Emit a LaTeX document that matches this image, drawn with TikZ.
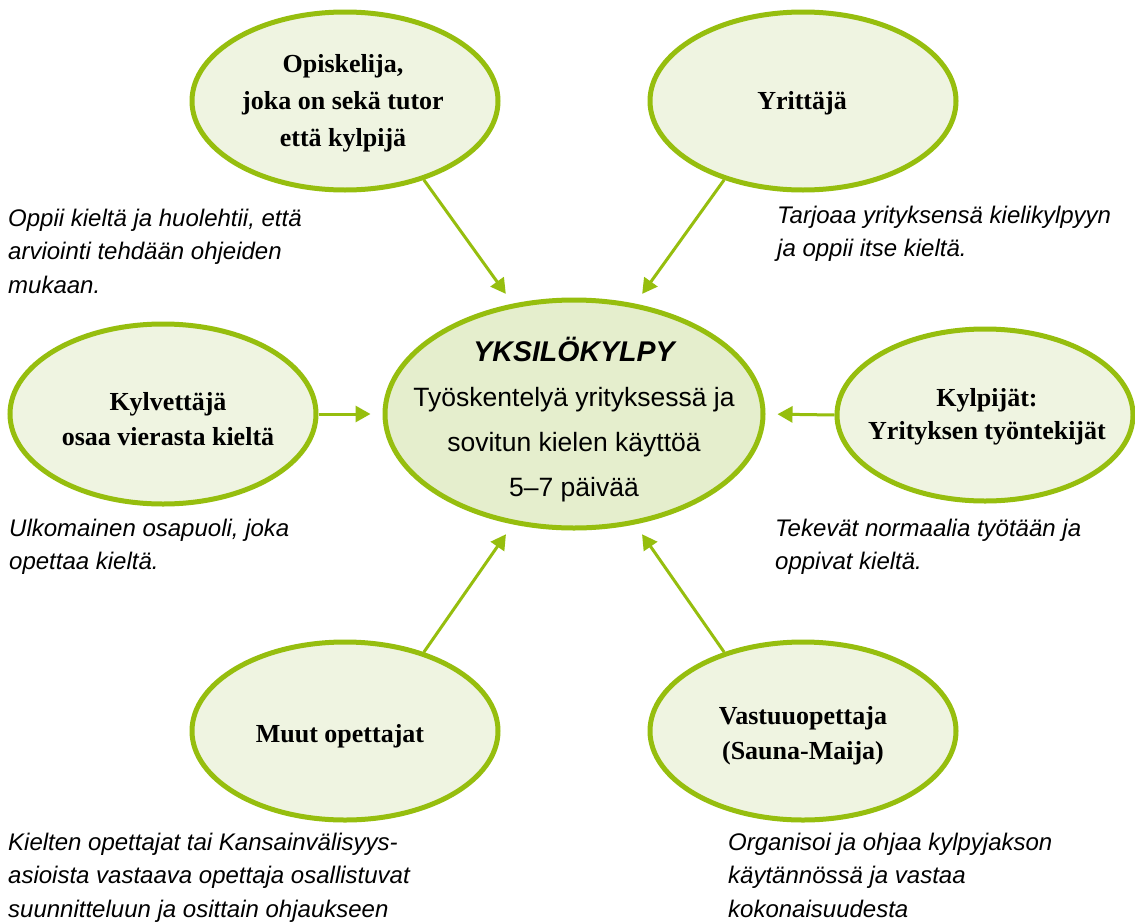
\documentclass[tikz,border=0pt]{standalone}
\usepackage{fontspec}
\setmainfont{Liberation Serif}
\setsansfont{Liberation Sans}
\usetikzlibrary{arrows.meta,shapes.geometric}
\definecolor{lgreen}{RGB}{150,190,14}
\definecolor{ofill}{RGB}{239,244,225}
\definecolor{cfill}{RGB}{229,238,205}
\begin{document}
\begin{tikzpicture}[x=1pt,y=-1pt,
  ell/.style={ellipse, draw=lgreen, line width=5pt, fill=ofill, inner sep=0pt, outer sep=2.5pt,
    minimum width=306pt, minimum height=178pt},
  rolet/.style={align=center, inner sep=0pt, font=\rmfamily\bfseries\fontsize{26}{37}\selectfont},
  desc/.style={align=left, anchor=north west, inner sep=0pt, font=\sffamily\itshape\fontsize{24}{33.3}\selectfont},
  arr/.style={draw=lgreen, line width=3pt, -{Triangle[length=15pt,width=16pt]}, shorten >=12pt}]
\useasboundingbox[fill=white] (0,0) rectangle (1135,921);

% ellipses
\node[ell, fill=cfill, minimum width=378pt, minimum height=228pt] (c) at (574,414) {};
\node[ell] (op) at (345,101) {};
\node[ell] (yr) at (803,101) {};
\node[ell, minimum width=306pt, minimum height=180pt] (kv) at (163,414) {};
\node[ell, minimum width=296pt, minimum height=172pt] (kp) at (985,415) {};
\node[ell] (mu) at (345,731) {};
\node[ell] (va) at (803,731) {};

% texts in ellipses
\node[align=center, inner sep=0pt, font=\sffamily\fontsize{26.5}{45}\selectfont] (c-t) at (574,420)
  {{\bfseries\itshape\fontsize{28.5}{45}\selectfont YKSILÖKYLPY}\\Työskentelyä yrityksessä ja\\sovitun kielen käyttöä\\5–7 päivää};
\node[rolet] (op-t) at (343,103) {Opiskelija,\\joka on sekä tutor\\että kylpijä};
\node[rolet] (yr-t) at (802,103) {Yrittäjä};
\node[rolet, font=\rmfamily\bfseries\fontsize{26}{35}\selectfont] (kv-t) at (168,419) {Kylvettäjä\\osaa vierasta kieltä};
\node[rolet, font=\rmfamily\bfseries\fontsize{26}{33}\selectfont] (kp-t) at (987,417) {Kylpijät:\\Yrityksen työntekijät};
\node[rolet] (mu-t) at (340,736) {Muut opettajat};
\node[rolet, font=\rmfamily\bfseries\fontsize{26}{35}\selectfont] (va-t) at (803,736) {Vastuuopettaja\\(Sauna-Maija)};

% descriptions
\node[desc] (op-d) at (8,209) {Oppii kieltä ja huolehtii, että\\arviointi tehdään ohjeiden\\mukaan.};
\node[desc] (yr-d) at (777,206) {Tarjoaa yrityksensä kielikylpyyn\\ja oppii itse kieltä.};
\node[desc] (kv-d) at (9,519) {Ulkomainen osapuoli, joka\\opettaa kieltä.};
\node[desc] (kp-d) at (775,519) {Tekevät normaalia työtään ja\\oppivat kieltä.};
\node[desc] (mu-d) at (8,833) {Kielten opettajat tai Kansainvälisyys-\\asioista vastaava opettaja osallistuvat\\suunnitteluun ja osittain ohjaukseen};
\node[desc] (va-d) at (728,833) {Organisoi ja ohjaa kylpyjakson\\käytännössä ja vastaa\\kokonaisuudesta};

% arrows
\draw[arr] (op.-45) -- (c.119);
\draw[arr] (yr.-135) -- (c.61);
\draw[arr] (kv.0) -- (c.180);
\draw[arr] (kp.180) -- (c.0);
\draw[arr] (mu.45) -- (c.-119);
\draw[arr] (va.135) -- (c.-61);
\end{tikzpicture}
\end{document}
